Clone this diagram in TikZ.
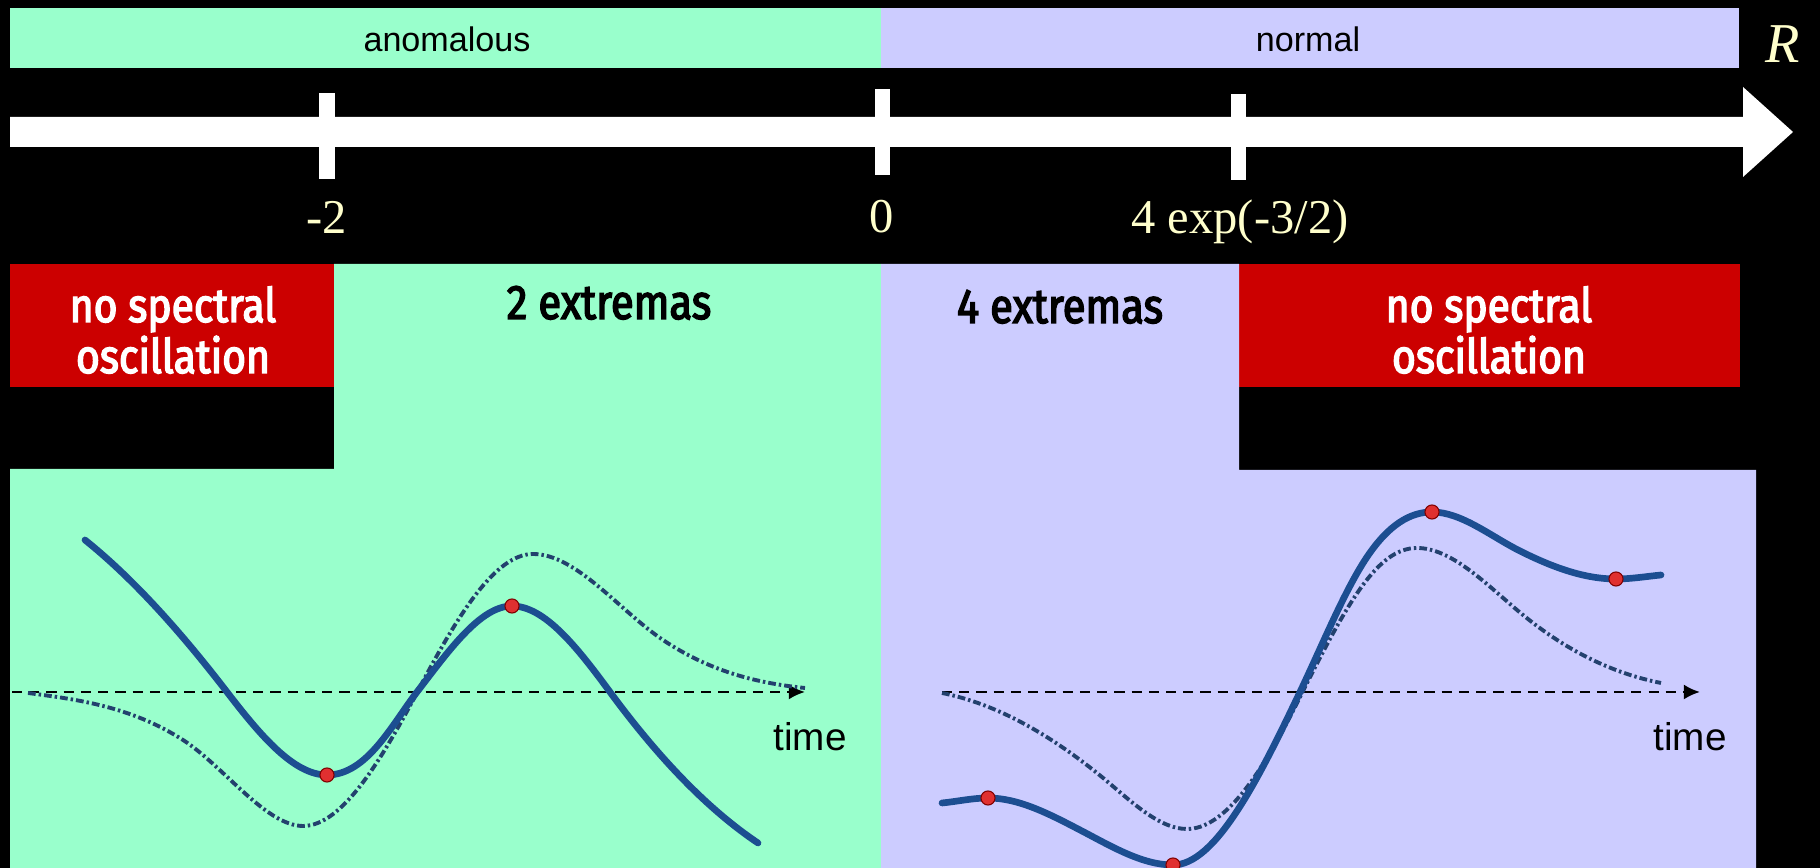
\documentclass[tikz,border=0pt]{standalone}
\usepackage{fontspec}
\setmainfont{Liberation Serif}
\setsansfont{Liberation Sans}
\newfontfamily\roundfont[FakeStretch=0.86, FakeBold=3]{Fira Sans}
\usetikzlibrary{arrows.meta,positioning}

\definecolor{anomgreen}{RGB}{153,255,204}
\definecolor{normlav}{RGB}{204,204,255}
\definecolor{warnred}{RGB}{204,0,0}
\definecolor{paleyellow}{RGB}{255,255,204}
\definecolor{curveblue}{RGB}{28,78,145}
\definecolor{envblue}{RGB}{35,65,110}
\definecolor{dotred}{RGB}{224,48,48}

\begin{document}
\begin{tikzpicture}[x=0.01cm, y=-0.01cm,
    toplabel/.style={font=\sffamily\fontsize{9.7}{11}\selectfont, anchor=base},
    ticklabel/.style={font=\fontsize{13.8}{16}\selectfont, text=paleyellow, anchor=base},
    tickmark/.style={fill=white, inner sep=0, minimum width=0.15cm, minimum height=0.85cm},
    regionlabel/.style={font=\roundfont\fontsize{13.8}{15}\selectfont, anchor=base},
    warnlabel/.style={font=\roundfont\fontsize{13.5}{15}\selectfont, text=white, anchor=base},
    timelabel/.style={font=\sffamily\fontsize{11}{13}\selectfont},
    timeaxis/.style={line width=0.75pt, dash pattern=on 2.9pt off 2pt, -{Latex[length=4.6pt,width=4.3pt]}},
    signal/.style={curveblue, line width=1.9pt, line cap=round},
    envelope/.style={envblue, line width=1.1pt, dash pattern=on 2.2pt off 0.85pt on 0.7pt off 0.85pt},
    extremum/.style={fill=dotred, draw=red!50!black, line width=0.3pt}]

    % background and regions
    \fill[black] (0,0) rectangle (1820,868);
    \useasboundingbox (0,0) rectangle (1820,868);
    \fill[anomgreen] (10,8) rectangle (881,68);
    \fill[normlav] (881,8) rectangle (1739,68);
    \fill[warnred] (10,264) rectangle (334,387);
    \fill[warnred] (1239,264) rectangle (1740,387);
    \fill[anomgreen] (334,264) -- (881,264) -- (881,868) -- (10,868) -- (10,469) -- (334,469) -- cycle;
    \fill[normlav] (881,264) -- (1239,264) -- (1239,470) -- (1756,470) -- (1756,868) -- (881,868) -- cycle;

    % R axis
    \fill[white] (10,117) -- (1743,117) -- (1743,87) -- (1793,132) -- (1743,177) -- (1743,147) -- (10,147) -- cycle;
    \node[tickmark] (tm2) at (327,136) {};
    \node[tickmark] (t0) at (882,132) {};
    \node[tickmark] (tcrit) at (1238,137) {};

    \node[toplabel] (anom) at (447,52) {anomalous};
    \node[toplabel] (norm) at (1308,52) {normal};
    \node[ticklabel, font=\itshape\fontsize{16}{18}\selectfont] (rlab) at (1783,63) {R};
    \node[ticklabel] (lm2) at (327,234) {-2};
    \node[ticklabel] (l0) at (882,233) {0};
    \node[ticklabel] (lcrit) at (1240,234) {4 exp(-3/2)};

    \node[warnlabel] (nsl1) at (173,322) {no spectral};
    \node[warnlabel] (nsl2) at (173,373) {oscillation};
    \node[warnlabel] (nsr1) at (1489,322) {no spectral};
    \node[warnlabel] (nsr2) at (1489,373) {oscillation};
    \node[regionlabel] (two) at (609,319) {2 extremas};
    \node[regionlabel] (four) at (1060,323) {4 extremas};

    % anomalous example
    \coordinate (la0) at (12,692);
    \coordinate (la1) at (805,692);
    \draw[timeaxis] (la0) -- (la1);
    \node[timelabel] (ltime) at (810,737) {time};
    \draw[envelope] (28,693) .. controls (79.7,699.7) and (131.3,706.9) .. (183,740)
        .. controls (223,765.6) and (266,826) .. (303,826)
        .. controls (342,826) and (381,761.1) .. (420,687)
        .. controls (457.7,615.4) and (495.3,554) .. (533,554)
        .. controls (576.3,554) and (619.7,611) .. (663,640)
        .. controls (710.3,671.7) and (757.7,683.3) .. (805,688);
    \draw[signal] (85,540) .. controls (132.3,577.9) and (179.7,630.5) .. (227,692)
        .. controls (260.3,735.3) and (293.7,775) .. (327,775)
        .. controls (367,775) and (392,724.5) .. (417,692)
        .. controls (448.7,650.8) and (480.3,606) .. (512,606)
        .. controls (544.7,606) and (577.3,647.5) .. (610,692)
        .. controls (659.3,759) and (708.7,810) .. (758,843);
    \coordinate (ex1) at (327,775);
    \coordinate (ex2) at (512,606);
    \fill[extremum] (ex1) circle[radius=2pt];
    \fill[extremum] (ex2) circle[radius=2pt];

    % normal example
    \coordinate (ra0) at (942,692);
    \coordinate (ra1) at (1700,692);
    \draw[timeaxis] (ra0) -- (ra1);
    \node[timelabel] (rtime) at (1690,737) {time};
    \draw[envelope] (942,693) .. controls (993.7,703.3) and (1045.3,731.6) .. (1097,773)
        .. controls (1127,797) and (1157,829) .. (1187,829)
        .. controls (1223.7,829) and (1260.3,776.3) .. (1297,703)
        .. controls (1347,603) and (1377,548) .. (1417,548)
        .. controls (1450.3,548) and (1483.7,581.7) .. (1517,610)
        .. controls (1565,650.8) and (1613,673.4) .. (1661,683);
    \draw[signal] (942,803) .. controls (957.3,801.5) and (972.7,798) .. (988,798)
        .. controls (1018.7,798) and (1049.3,814) .. (1080,830)
        .. controls (1111,846.1) and (1142,865) .. (1173,865)
        .. controls (1215.3,865) and (1257.7,780.9) .. (1300,692)
        .. controls (1322.3,645.2) and (1344.7,590.2) .. (1367,557)
        .. controls (1388.7,524.7) and (1410.3,512) .. (1432,512)
        .. controls (1461.3,512) and (1490.7,536.3) .. (1520,551)
        .. controls (1552,567) and (1584,579) .. (1616,579)
        .. controls (1631,579) and (1646,576.5) .. (1661,575);
    \coordinate (ex3) at (988,798);
    \coordinate (ex4) at (1173,865);
    \coordinate (ex5) at (1432,512);
    \coordinate (ex6) at (1616,579);
    \foreach \e in {ex3,ex4,ex5,ex6}
        \fill[extremum] (\e) circle[radius=2pt];
\end{tikzpicture}
\end{document}
